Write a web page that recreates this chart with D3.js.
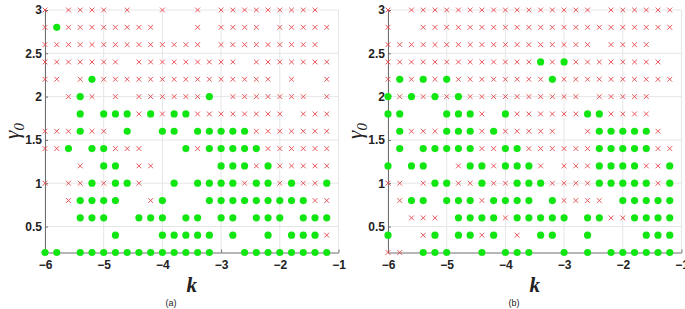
<!DOCTYPE html>
<html>
<head>
<meta charset="utf-8">
<script src="https://cdn.jsdelivr.net/npm/d3@7"></script>
<style>
    html, body { margin: 0; padding: 0; background: #fff; overflow: hidden; }
    svg { display: block; }
</style>
</head>
<body>
<script>
(function () {
    "use strict";

    // grid of k (columns) and gamma0 (rows, top to bottom)
    var kValues = d3.range(25).map(function (i) { return -6 + 0.2 * i; });
    var gammaValues = [3.0, 2.8, 2.6, 2.4, 2.2, 2.0, 1.8, 1.6, 1.4, 1.2, 1.0, 0.8, 0.6, 0.4, 0.2];

    var xTicks = [-6, -5, -4, -3, -2, -1];
    var yTicks = [0.5, 1, 1.5, 2, 2.5, 3];

    // o = green dot, x = red cross, . = nothing (one string per gamma row)
    var statusA = [
        "x.xxxx.x..x..x.xxxxxxxxx.",
        "xoxxxxxxxx...x.xxxx.xxxxx",
        "xxxxxxxxxxxxxx.xxxxxxxxx.",
        "xxxxxxx.xxxxxxxxx.xxxxxxx",
        "xx.xoxxxxxxxxxxxxxxx.x..x",
        "..xox.x.xxxxxxo.xxxxxxx.x",
        "...o.oooxoxooxxxxxxxx.xxx",
        "xxxoxx.o..oo.oooooxxxxxxx",
        "xxo.ooxxx...oxoooooxxxxxx",
        "...x.oo.xx.....oooxoxxxxx",
        "x.xxoxoox..o.ooooxooxoxxo",
        "..xoooo..xo...oooooooooxx",
        "...ooo..ooo.oo.oo.ooo.ooo",
        "......o...ooooo.o..o.ooox",
        "oo.oooooooooooo..oooooooo"
    ];

    var statusB = [
        "x.xxxxxxxxxxxxxxxx.xxxxxx",
        "x..xxxxxxxxxxxxxxxxxxxxxx",
        "xxxxxxxxxxxxxxxxxx.xxxx..",
        "xxxxxxxxxxxxxoxoxxxxxxxx.",
        "xoxoxoxxxxxxxxoxxxxxxxxxx",
        "oxoxoxoxxxxxxxxxx.xxxxx..",
        "oo...ooox.oxxxxxxooxxxx..",
        ".oxxxoooxoxxxxx..xooooox.",
        ".o.oooooxxooxxxxxxoooooxx",
        "o.oo..xooxooox.xxxooooxxo",
        "xx.xooxxoxxoooxxxxoooooxo",
        ".xoo.oooxoooo.oxxxx.ooooo",
        "..xxx.ooooxooooo.ooxxoooo",
        "o..xo.ooxo.x.oo..o....ooo",
        "xx.ooo..o.ooo..o.o.oooooo"
    ];

    var panels = [
        {status: statusA, left: 45, label: "(a)", caption: 171},
        {status: statusB, left: 388, label: "(b)", caption: 514}
    ];

    var plot = {top: 10, bottom: 252.5, width: 293.5};

    var svg = d3.select("body").append("svg")
            .attr("width", 685)
            .attr("height", 309);

    function toPoints(status) {
        var pts = [];
        status.forEach(function (row, r) {
            row.split("").forEach(function (c, i) {
                if (c !== ".") {
                    pts.push({k: kValues[i], g: gammaValues[r], type: c});
                }
            });
        });
        return pts;
    }

    panels.forEach(function (p) {
        var x = d3.scaleLinear().domain([-6, -1]).range([p.left, p.left + plot.width]);
        var y = d3.scaleLinear().domain([0.2, 3]).range([plot.bottom, plot.top]);
        var g = svg.append("g");

        // grid
        g.selectAll(".gx").data(xTicks).enter().append("line")
                .attr("x1", function (d) { return x(d); })
                .attr("x2", function (d) { return x(d); })
                .attr("y1", plot.top).attr("y2", plot.bottom)
                .attr("stroke", "#e6e6e6").attr("stroke-width", 1);
        g.selectAll(".gy").data(yTicks).enter().append("line")
                .attr("y1", function (d) { return y(d); })
                .attr("y2", function (d) { return y(d); })
                .attr("x1", x(-6)).attr("x2", x(-1))
                .attr("stroke", "#e6e6e6").attr("stroke-width", 1);

        // axes (ticks point inwards like matlab)
        var xAxis = g.append("g")
                .attr("transform", "translate(0," + plot.bottom + ")")
                .call(d3.axisBottom(x).tickValues(xTicks).tickSizeInner(-3).tickSizeOuter(0)
                        .tickPadding(8).tickFormat(d3.format("d")));
        var yAxis = g.append("g")
                .attr("transform", "translate(" + p.left + ",0)")
                .call(d3.axisLeft(y).tickValues(yTicks).tickSizeInner(-3).tickSizeOuter(0)
                        .tickPadding(3).tickFormat(function (d) { return String(d); }));

        [xAxis, yAxis].forEach(function (a) {
            a.select(".domain").attr("stroke", "#6e6e6e");
            a.selectAll(".tick line").attr("stroke", "#6e6e6e");
            a.selectAll("text")
                    .attr("fill", "#222")
                    .style("font-family", "'Liberation Sans', Arial, sans-serif")
                    .style("font-weight", "bold")
                    .style("font-size", "12px");
        });

        var pts = toPoints(p.status);

        // crosses
        var s = 2.4;
        g.selectAll(".cross").data(pts.filter(function (d) { return d.type === "x"; }))
                .enter().append("path")
                .attr("d", function (d) {
                    var cx = x(d.k), cy = y(d.g);
                    return "M" + (cx - s) + "," + (cy - s) + "L" + (cx + s) + "," + (cy + s) +
                            "M" + (cx - s) + "," + (cy + s) + "L" + (cx + s) + "," + (cy - s);
                })
                .attr("stroke", "#e4464c")
                .attr("stroke-width", 0.9)
                .attr("fill", "none");

        // dots
        g.selectAll(".dot").data(pts.filter(function (d) { return d.type === "o"; }))
                .enter().append("circle")
                .attr("cx", function (d) { return x(d.k); })
                .attr("cy", function (d) { return y(d.g); })
                .attr("r", 3.6)
                .attr("fill", "#12e612");

        // axis titles
        var mid = (x(-6) + x(-1)) / 2;
        g.append("text")
                .attr("x", mid).attr("y", 292)
                .attr("text-anchor", "middle")
                .style("font-family", "'Liberation Serif', 'Times New Roman', serif")
                .style("font-style", "italic")
                .style("font-weight", "bold")
                .style("font-size", "21px")
                .attr("fill", "#222")
                .text("k");

        var yl = g.append("text")
                .attr("transform", "translate(" + (p.left - 26) + ",131) rotate(-90)")
                .attr("text-anchor", "middle")
                .style("font-family", "'Liberation Serif', 'Times New Roman', serif")
                .style("font-style", "italic")
                .style("font-size", "21px")
                .attr("fill", "#222");
        yl.append("tspan").text("\u03b3");
        yl.append("tspan").attr("dy", 5).style("font-size", "15px").text("0");

        g.append("text")
                .attr("x", p.caption).attr("y", 306)
                .attr("text-anchor", "middle")
                .style("font-family", "'Liberation Sans', Arial, sans-serif")
                .style("font-size", "9px")
                .attr("fill", "#222")
                .text(p.label);
    });
})();
</script>
</body>
</html>
